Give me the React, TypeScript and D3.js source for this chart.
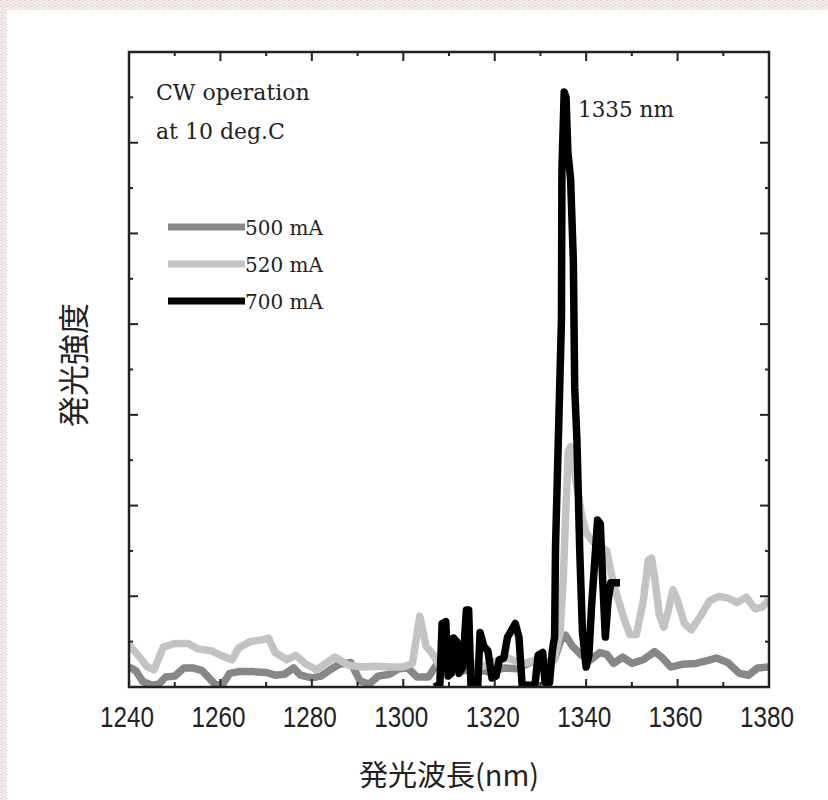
import React, { useEffect, useRef } from 'react';
import * as d3 from 'd3';

// wavelength (nm) / intensity (a.u.)
const pts500: [number, number][] = [
  [1240, 0.22], [1241.5, 0.18], [1243, 0.06], [1245, 0.02], [1246.5, 0.03], [1248, 0.11], [1250, 0.12],
  [1252, 0.21], [1254, 0.21], [1256, 0.18], [1257.5, 0.1], [1259, 0.02], [1260.5, 0.03], [1262, 0.15],
  [1264, 0.17], [1267, 0.17], [1270, 0.16], [1272, 0.13], [1274, 0.14], [1276, 0.21], [1277.5, 0.13],
  [1280, 0.1], [1282, 0.12], [1284, 0.19], [1286, 0.25], [1288.5, 0.27], [1290.5, 0.07], [1292.5, 0.03],
  [1294.5, 0.12], [1297, 0.14], [1299, 0.2], [1301, 0.21], [1303, 0.11], [1305.5, 0.11], [1307.5, 0.26],
  [1310, 0.22], [1313, 0.18], [1316, 0.2], [1319, 0.16], [1322, 0.21], [1325, 0.2], [1328, 0.28],
  [1331, 0.26], [1333, 0.3], [1334.5, 0.52], [1335.5, 0.57], [1337, 0.45], [1339, 0.35], [1341, 0.3],
  [1343, 0.38], [1344.5, 0.36], [1346, 0.26], [1348, 0.33], [1350, 0.26], [1352.5, 0.3], [1355, 0.39],
  [1356.5, 0.33], [1358.5, 0.22], [1361, 0.25], [1364, 0.26], [1366.5, 0.29], [1368.5, 0.32], [1371, 0.27],
  [1373.5, 0.15], [1375.5, 0.13], [1377.5, 0.21], [1380, 0.22]
];

const pts520: [number, number][] = [
  [1240, 0.46], [1242, 0.35], [1244, 0.22], [1245.5, 0.19], [1247.5, 0.44], [1250, 0.48], [1253, 0.48],
  [1255, 0.42], [1258, 0.4], [1260, 0.35], [1262.5, 0.3], [1264, 0.43], [1266.5, 0.5], [1269, 0.52],
  [1270.5, 0.54], [1272, 0.38], [1274.5, 0.3], [1276.5, 0.35], [1278.5, 0.26], [1281, 0.19], [1283, 0.26],
  [1285, 0.33], [1288, 0.24], [1291, 0.22], [1294, 0.23], [1297, 0.22], [1300, 0.22], [1302, 0.26],
  [1303.6, 0.78], [1305, 0.45], [1306.5, 0.36], [1308, 0.22], [1311, 0.25], [1314, 0.3], [1317, 0.22],
  [1320, 0.28], [1323, 0.32], [1326, 0.25], [1329, 0.3], [1331, 0.22], [1333, 0.3], [1334.3, 0.6],
  [1335, 1.2], [1335.6, 2.0], [1336.1, 2.6], [1336.6, 2.65], [1337.2, 2.45], [1338, 2.2], [1339, 1.9], [1340, 1.7],
  [1341.5, 1.6], [1343, 1.55], [1344.5, 1.5], [1345.5, 1.25], [1346.5, 1.05], [1348, 0.8], [1349.5, 0.58],
  [1351, 0.58], [1352.5, 0.95], [1353.6, 1.4], [1354.3, 1.42], [1355, 1.2], [1356, 0.8], [1357, 0.66], [1358, 0.85],
  [1359, 1.07], [1360, 0.95], [1361.5, 0.7], [1363, 0.63], [1365, 0.78], [1367, 0.95], [1369, 1.0],
  [1371, 0.98], [1373, 0.93], [1375, 0.99], [1377, 0.86], [1378.5, 0.88], [1380, 0.96]
];

const pts700: [number, number][] = [
  [1306.8, 0], [1308, 0.03], [1308.5, 0.7], [1309.3, 0.72], [1309.8, 0.12], [1310.5, 0.15], [1311, 0.54],
  [1311.7, 0.5], [1312.2, 0.15], [1313, 0.22], [1313.8, 0.85], [1314.3, 0.85], [1314.8, 0.02], [1316.3, 0.02],
  [1316.8, 0.6], [1317.6, 0.45], [1318.5, 0.4], [1319.4, 0.1], [1320.3, 0.12], [1321, 0.3], [1322, 0.32],
  [1322.8, 0.55], [1323.6, 0.62], [1324.5, 0.7], [1325.3, 0.55], [1326, 0.02], [1328.8, 0.02], [1329.5, 0.35],
  [1330.5, 0.38], [1331, 0.05], [1332, 0.05], [1332.6, 0.4], [1333.1, 0.55], [1333.3, 1.54], [1333.9, 2.7],
  [1334.6, 4.05], [1334.7, 5.7], [1335.2, 6.56], [1335.6, 6.5], [1336, 5.9], [1336.6, 5.6], [1337.2, 4.7],
  [1337.5, 3.3], [1338, 2.7], [1338.6, 1.5], [1339.2, 0.6], [1340, 0.22], [1340.6, 0.35], [1341.2, 0.9],
  [1341.9, 1.4], [1342.5, 1.84], [1343.1, 1.8], [1343.6, 1.2], [1344.2, 0.55], [1344.8, 0.95], [1345.4, 1.15],
  [1347.4, 1.15]
];

const series = [pts500, pts520, pts700];
const legendLabels = ['500 mA', '520 mA', '700 mA'];
const lineColors = ['#878787', '#c3c3c3', '#000000'];
const xTickValues = [1240, 1260, 1280, 1300, 1320, 1340, 1360, 1380];
const noteLines = ['CW operation', 'at 10 deg.C'];
const peakLabel = '1335 nm';
const xTitle = '発光波長(nm)';
const yTitle = '発光強度';

export default function App() {
  const ref = useRef<SVGSVGElement>(null);

  useEffect(() => {
    const svg = d3.select(ref.current);
    svg.selectAll('*').remove();

    const left = 129, right = 769, top = 52, bottom = 687;
    const x = d3.scaleLinear().domain([1240, 1380]).range([left, right]);
    const y = d3.scaleLinear().domain([0, 7]).range([bottom, top]);

    // textured page edge
    const defs = svg.append('defs');
    const pat = defs.append('pattern').attr('id', 'tex')
      .attr('width', 6).attr('height', 6).attr('patternUnits', 'userSpaceOnUse');
    pat.append('rect').attr('width', 6).attr('height', 6).attr('fill', '#f3ecea');
    const dots = [[0, 0, '#e6c9cf'], [3, 1, '#e9e1c9'], [1, 3, '#dcdcdc'], [4, 4, '#eed6d9'], [2, 5, '#e4dccb']];
    dots.forEach(([dx, dy, c]) => {
      pat.append('rect').attr('x', dx).attr('y', dy).attr('width', 2).attr('height', 1).attr('fill', c as string);
    });
    svg.append('rect').attr('width', 828).attr('height', 800).attr('fill', '#fff');
    svg.append('rect').attr('width', 828).attr('height', 10).attr('fill', 'url(#tex)');
    svg.append('rect').attr('width', 7).attr('height', 800).attr('fill', 'url(#tex)');

    defs.append('clipPath').attr('id', 'plotclip')
      .append('rect').attr('x', left).attr('y', top).attr('width', right - left).attr('height', bottom - top);

    const line = d3.line<[number, number]>()
      .x(d => x(d[0]))
      .y(d => y(d[1]));

    const g = svg.append('g').attr('clip-path', 'url(#plotclip)');
    series.forEach((pts, i) => {
      g.append('path')
        .attr('d', line(pts))
        .attr('fill', 'none')
        .attr('stroke', lineColors[i])
        .attr('stroke-width', 7.5)
        .attr('stroke-linejoin', 'round');
    });

    // frame + ticks
    const ax = svg.append('g').attr('stroke', '#222').attr('fill', 'none');
    ax.append('rect').attr('x', left).attr('y', top).attr('width', right - left).attr('height', bottom - top)
      .attr('stroke-width', 2.5);

    const xMinor = d3.range(1250, 1380, 20);
    xTickValues.slice(1, -1).forEach(v => {
      ax.append('line').attr('x1', x(v)).attr('x2', x(v)).attr('y1', bottom).attr('y2', bottom - 8).attr('stroke-width', 2);
      ax.append('line').attr('x1', x(v)).attr('x2', x(v)).attr('y1', top).attr('y2', top + 9).attr('stroke-width', 2);
    });
    xMinor.forEach(v => {
      ax.append('line').attr('x1', x(v)).attr('x2', x(v)).attr('y1', bottom).attr('y2', bottom - 5).attr('stroke-width', 2);
      ax.append('line').attr('x1', x(v)).attr('x2', x(v)).attr('y1', top).attr('y2', top + 4).attr('stroke-width', 2);
    });
    d3.range(0.5, 7, 0.5).forEach(v => {
      const len = Number.isInteger(v) ? 9 : 4;
      ax.append('line').attr('x1', left).attr('x2', left + len).attr('y1', y(v)).attr('y2', y(v)).attr('stroke-width', 2);
      ax.append('line').attr('x1', right).attr('x2', right - len).attr('y1', y(v)).attr('y2', y(v)).attr('stroke-width', 2);
    });

    // tick labels (narrow sans)
    svg.append('g').selectAll('text').data(xTickValues).enter().append('text')
      .attr('x', d => x(d) - 2)
      .attr('y', 727)
      .attr('text-anchor', 'middle')
      .attr('font-family', "'Liberation Sans', Arial, sans-serif")
      .attr('font-size', 30)
      .attr('textLength', 54)
      .attr('lengthAdjust', 'spacingAndGlyphs')
      .attr('fill', '#222')
      .text(d => String(d));

    // axis titles
    svg.append('text')
      .attr('x', 449).attr('y', 786)
      .attr('text-anchor', 'middle')
      .attr('font-family', "'Noto Sans CJK JP', sans-serif")
      .attr('font-size', 29)
      .attr('fill', '#222')
      .text(xTitle);
    svg.append('text')
      .attr('transform', 'translate(85,365) rotate(-90)')
      .attr('text-anchor', 'middle')
      .attr('font-family', "'Noto Sans CJK JP', sans-serif")
      .attr('font-size', 31)
      .attr('fill', '#222')
      .text(yTitle);

    const serif = "'DejaVu Serif', 'Liberation Serif', serif";
    noteLines.forEach((t, i) => {
      svg.append('text')
        .attr('x', 156).attr('y', 100 + i * 39)
        .attr('font-family', serif).attr('font-size', 22).attr('fill', '#222')
        .text(t);
    });

    svg.append('text')
      .attr('x', 578).attr('y', 117)
      .attr('font-family', serif).attr('font-size', 21.5).attr('fill', '#222')
      .text(peakLabel);

    // legend
    legendLabels.forEach((t, i) => {
      const ly = 227 + i * 37;
      svg.append('line')
        .attr('x1', 168).attr('x2', 245).attr('y1', ly).attr('y2', ly)
        .attr('stroke', lineColors[i]).attr('stroke-width', 7);
      svg.append('text')
        .attr('x', 245).attr('y', ly + 8)
        .attr('font-family', serif).attr('font-size', 20).attr('fill', '#222')
        .text(t);
    });
  }, []);

  return <svg ref={ref} width={828} height={800} style={{ position: 'absolute', left: 0, top: 0 }} />;
}
